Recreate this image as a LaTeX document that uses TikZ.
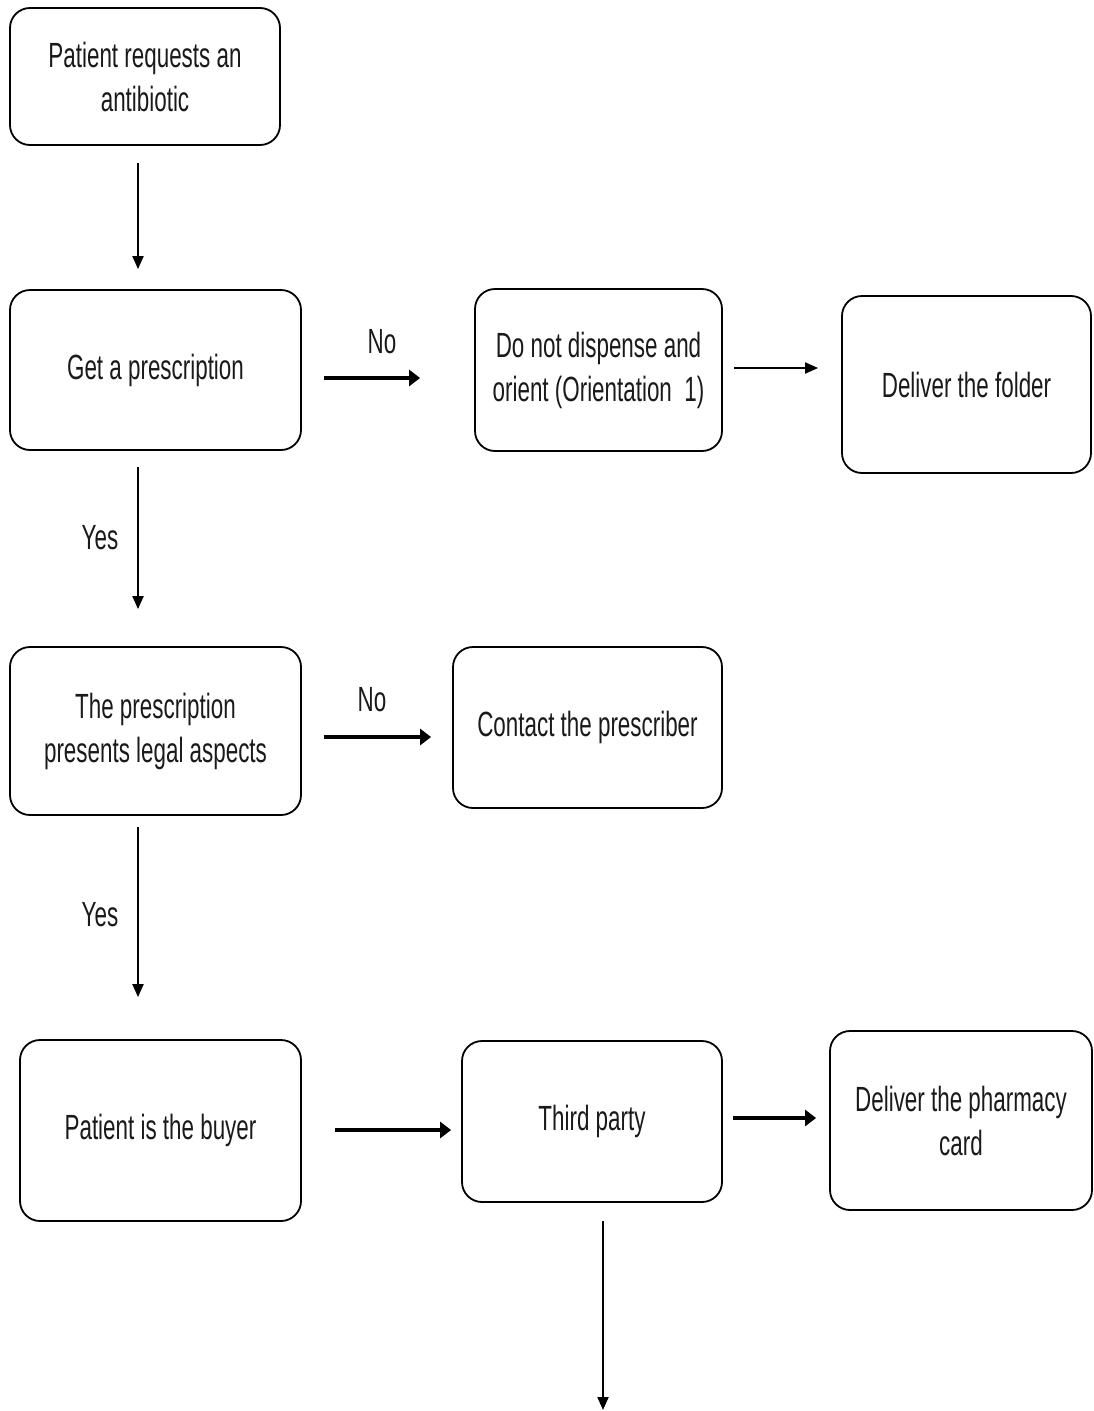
\documentclass[tikz,border=0pt]{standalone}
\usepackage{fontspec}
\setmainfont{Liberation Sans}[FakeStretch=0.64]
\usetikzlibrary{arrows.meta,calc}
\definecolor{txt}{HTML}{1A1A1A}
\tikzset{
  box/.style={draw=black, line width=1.8pt, rounded corners=20pt, align=center,
    text=txt, font=\fontsize{35}{44}\selectfont, inner sep=0pt},
  thinarr/.style={draw=black, line width=2pt, -{Triangle[length=13pt,width=11pt]}},
  thickarr/.style={draw=black, line width=4pt, -{Triangle[length=11pt,width=16pt]}},
  lbl/.style={text=txt, font=\fontsize{35}{44}\selectfont, inner sep=0pt}
}
\begin{document}
\begin{tikzpicture}[x=1pt,y=-1pt]
\useasboundingbox (0,0) rectangle (1093,1411);
\fill[white] (0,0) rectangle (1093,1411);

\node[box, minimum width=270pt, minimum height=137pt] (p1) at (145,76.5) {Patient requests an\\antibiotic};
\node[box, minimum width=291pt, minimum height=160pt] (p2) at (155.5,370) {Get a prescription};
\node[box, minimum width=247pt, minimum height=162pt] (p3) at (598.5,370) {Do not dispense and\\orient (Orientation\ \ 1)};
\node[box, minimum width=249pt, minimum height=177pt] (p4) at (966.5,384.5) {Deliver the folder};
\node[box, minimum width=291pt, minimum height=168pt] (p5) at (155.5,731) {The prescription\\presents legal aspects};
\node[box, minimum width=269pt, minimum height=161pt] (p6) at (587.5,727.5) {Contact the prescriber};
\node[box, minimum width=281pt, minimum height=181pt] (p7) at (160.5,1130.5) {Patient is the buyer};
\node[box, minimum width=260pt, minimum height=161pt] (p8) at (592,1121.5) {Third party};
\node[box, minimum width=262pt, minimum height=179pt] (p9) at (961,1120.5) {Deliver the pharmacy\\card};

\coordinate (colA) at (138,0);
\coordinate (colB) at (603,0);
\coordinate (endB) at (603,1410);

% vertical arrows
\draw[thinarr, shorten <=17pt, shorten >=20pt] (p1.south -| colA) -- (p2.north -| colA);
\draw[thinarr, shorten <=16pt, shorten >=37pt] (p2.south -| colA) -- (p5.north -| colA);
\draw[thinarr, shorten <=11pt, shorten >=42pt] (p5.south -| colA) -- (p7.north -| colA);
\draw[thinarr, shorten <=18pt] (p8.south -| colB) -- (endB);

% horizontal arrows
\draw[thickarr, shorten <=22pt, shorten >=54pt] ([yshift=-8pt]p2.east) -- ([yshift=-8pt]p3.west);
\draw[thinarr, shorten <=11pt, shorten >=23pt] ([yshift=2pt]p3.east) -- ([yshift=2pt]p3.east -| p4.west);
\draw[thickarr, shorten <=22pt, shorten >=21pt] ([yshift=-6pt]p5.east) -- ([yshift=-6pt]p5.east -| p6.west);
\draw[thickarr, shorten <=33pt, shorten >=10pt] ([yshift=0.5pt]p7.east) -- ([yshift=0.5pt]p7.east -| p8.west);
\draw[thickarr, shorten <=10pt, shorten >=13pt] ([yshift=3.5pt]p8.east) -- ([yshift=3.5pt]p8.east -| p9.west);

% labels
\node[lbl] (no1) at (382,342) {No};
\node[lbl] (no2) at (372,700) {No};
\node[lbl] (yes1) at (100,538) {Yes};
\node[lbl] (yes2) at (100,915) {Yes};
\end{tikzpicture}
\end{document}
